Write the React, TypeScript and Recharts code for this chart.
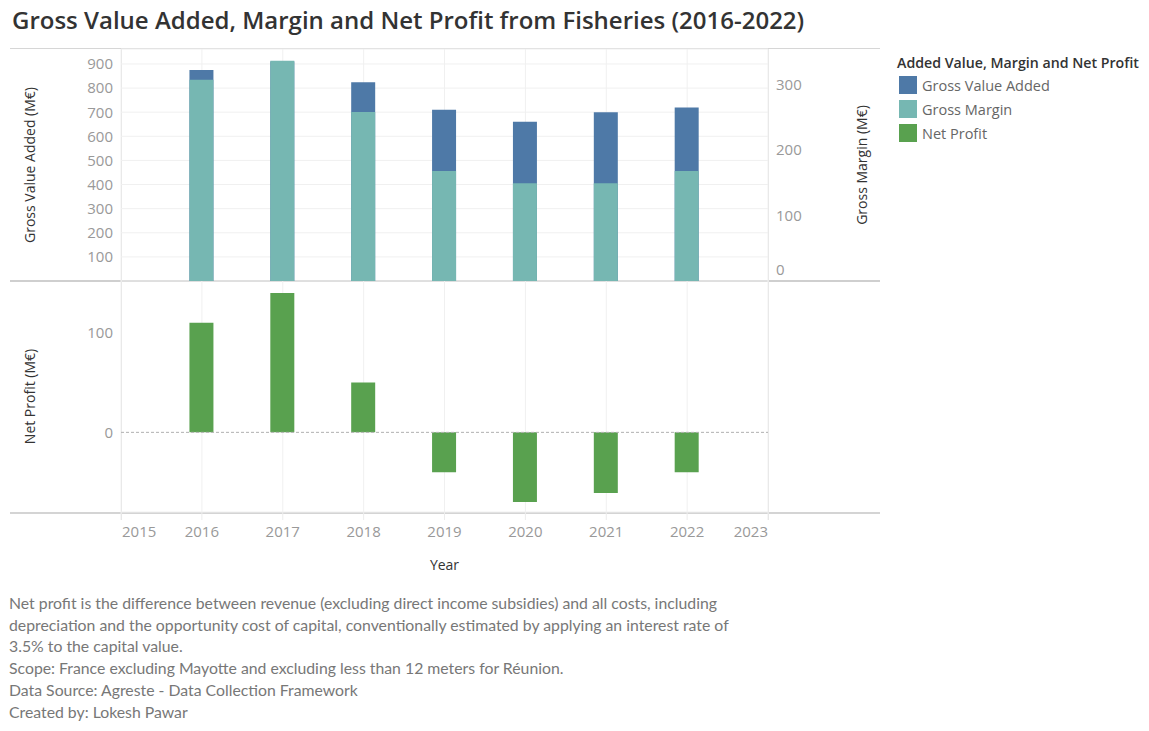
import React from "react";
import {
  Bar,
  BarChart,
  CartesianGrid,
  ReferenceLine,
  XAxis,
  YAxis,
} from "recharts";

// Fisheries figures, M€
const years = [2016, 2017, 2018, 2019, 2020, 2021, 2022];
const grossValueAdded = [875, 910, 824, 710, 660, 700, 719];
const grossMargin = [307, 336, 258, 168, 149, 149, 168];
const netProfit = [110, 140, 50, -40, -70, -61, -40];

const yearTicks = [2015, 2016, 2017, 2018, 2019, 2020, 2021, 2022, 2023];
const gvaTicks = [100, 200, 300, 400, 500, 600, 700, 800, 900];
const marginTicks = [0, 100, 200, 300];
const profitTicks = [0, 100];
const profitGridTicks = [100];

const COLORS = {
  gva: "#4e79a7",
  margin: "#76b7b2",
  profit: "#59a14f",
};

const legendItems = [
  { name: "Gross Value Added", color: COLORS.gva },
  { name: "Gross Margin", color: COLORS.margin },
  { name: "Net Profit", color: COLORS.profit },
];

const notes = [
  "Net profit is the difference between revenue (excluding direct income subsidies) and all costs, including",
  "depreciation and the opportunity cost of capital, conventionally estimated by applying an interest rate of",
  "3.5% to the capital value.",
  "Scope: France excluding Mayotte and excluding less than 12 meters for Réunion.",
  "Data Source: Agreste - Data Collection Framework",
  "Created by: Lokesh Pawar",
];

const topData = years.map((year, i) => ({
  year,
  gva: grossValueAdded[i],
  margin: grossMargin[i],
}));

const bottomData = years.map((year, i) => ({ year, profit: netProfit[i] }));

const FONT = "'Open Sans', sans-serif";
const TICK_COLOR = "#999";
const TITLE_COLOR = "#333";
const GRID = "#f0f0f0";
const FRAME = "#d6d6d6";

// right axis: Tableau lifts the bottom label so it stays inside the pane
const MarginTick = (props: any) => {
  const { x, y, payload } = props;
  const shift = payload.value === 0 ? -11 : 0;
  return (
    <text x={x} y={y + shift} dy="0.355em" textAnchor="start" fill={TICK_COLOR} fontSize={15} fontFamily={FONT}>
      {payload.value}
    </text>
  );
};

// first/last year labels are pulled inside the pane edges
const YearTick = (props: any) => {
  const { x, y, payload } = props;
  let anchor = "middle";
  let xx = x;
  if (payload.value === 2015) {
    anchor = "start";
    xx = x + 1;
  } else if (payload.value === 2023) {
    anchor = "end";
  }
  return (
    <text x={xx} y={y} dy="0.71em" textAnchor={anchor} fill={TICK_COLOR} fontSize={15} fontFamily={FONT}>
      {payload.value}
    </text>
  );
};

const hLine = (top: number, color = FRAME, h = 1) => (
  <div style={{ position: "absolute", left: 10, top, width: 870, height: h, background: color }} />
);
const vLine = (left: number) => (
  <div style={{ position: "absolute", left, top: 49, width: 1, height: 471, background: "#e2e2e2" }} />
);

const tickStyle = { fill: TICK_COLOR, fontSize: 15, fontFamily: FONT };

export default function App() {
  return (
    <div
      style={{
        position: "absolute",
        left: 0,
        top: 0,
        width: 1149,
        height: 731,
        background: "#fff",
        fontFamily: FONT,
      }}
    >
      <div
        style={{
          position: "absolute",
          left: 12,
          top: 3,
          fontSize: 24,
          fontWeight: 600,
          color: TITLE_COLOR,
          whiteSpace: "nowrap",
        }}
      >
        Gross Value Added, Margin and Net Profit from Fisheries (2016-2022)
      </div>

      {hLine(48)}
      {hLine(280, "#cfcfcf", 2)}
      {hLine(512, "#d4d4d4", 2)}
      {vLine(121)}
      {vLine(768)}

      <div style={{ position: "absolute", left: 0, top: 0 }}>
        <BarChart width={880} height={281} data={topData} margin={{ top: 49, right: 0, bottom: 0, left: 10 }}>
          <CartesianGrid stroke={GRID} xAxisId="gva" yAxisId="left" />
          <XAxis xAxisId="gva" dataKey="year" type="number" domain={[2015, 2023]} ticks={yearTicks} hide />
          <XAxis xAxisId="margin" dataKey="year" type="number" domain={[2015, 2023]} ticks={yearTicks} hide />
          <YAxis
            yAxisId="left"
            width={111}
            domain={[0, 962]}
            ticks={gvaTicks}
            interval={0}
            axisLine={false}
            tickLine={false}
            tick={tickStyle}
            label={{
              value: "Gross Value Added (M€)",
              angle: -90,
              position: "insideLeft",
              offset: 20,
              style: { textAnchor: "middle", fill: TITLE_COLOR, fontSize: 14, fontFamily: FONT },
            }}
          />
          <YAxis
            yAxisId="right"
            orientation="right"
            width={112}
            domain={[0, 354]}
            ticks={marginTicks}
            interval={0}
            axisLine={false}
            tickLine={false}
            tick={<MarginTick />}
            label={{
              value: "Gross Margin (M€)",
              angle: -90,
              position: "insideRight",
              offset: 18,
              style: { textAnchor: "middle", fill: TITLE_COLOR, fontSize: 14, fontFamily: FONT },
            }}
          />
          <Bar dataKey="gva" xAxisId="gva" yAxisId="left" fill={COLORS.gva} barSize={24} isAnimationActive={false} />
          <Bar dataKey="margin" xAxisId="margin" yAxisId="right" fill={COLORS.margin} barSize={24} isAnimationActive={false} />
        </BarChart>
      </div>

      <div style={{ position: "absolute", left: 0, top: 281 }}>
        <BarChart width={880} height={300} data={bottomData} margin={{ top: 0, right: 112, bottom: 11, left: 10 }}>
          <CartesianGrid stroke={GRID} yAxisId="grid" />
          <XAxis
            dataKey="year"
            type="number"
            domain={[2015, 2023]}
            ticks={yearTicks}
            interval={0}
            height={58}
            axisLine={false}
            tickLine={{ stroke: "#ececec" }}
            tickSize={8}
            tickMargin={6}
            tick={<YearTick />}
            label={{
              value: "Year",
              position: "insideBottom",
              offset: 0,
              style: { fill: TITLE_COLOR, fontSize: 14, fontFamily: FONT },
            }}
          />
          <YAxis
            width={111}
            domain={[-80, 152]}
            ticks={profitTicks}
            interval={0}
            axisLine={false}
            tickLine={false}
            tick={tickStyle}
            label={{
              value: "Net Profit (M€)",
              angle: -90,
              position: "insideLeft",
              offset: 20,
              style: { textAnchor: "middle", fill: TITLE_COLOR, fontSize: 14, fontFamily: FONT },
            }}
          />
          {/* hidden axis that only feeds the 100 gridline */}
          <YAxis yAxisId="grid" domain={[-80, 152]} ticks={profitGridTicks} hide />
          <ReferenceLine y={0} stroke="#b0b0b0" strokeDasharray="3 2" />
          <Bar dataKey="profit" fill={COLORS.profit} barSize={24} isAnimationActive={false} />
        </BarChart>
      </div>

      <div style={{ position: "absolute", left: 897, top: 53 }}>
        <div style={{ fontSize: 14.2, fontWeight: 600, color: TITLE_COLOR, lineHeight: "20px", whiteSpace: "nowrap" }}>
          Added Value, Margin and Net Profit
        </div>
        {legendItems.map((item) => (
          <div key={item.name} style={{ display: "flex", alignItems: "center", height: 24 }}>
            <div style={{ width: 18, height: 18, background: item.color, marginLeft: 2, marginRight: 5 }} />
            <span style={{ fontSize: 14.5, color: "#666" }}>{item.name}</span>
          </div>
        ))}
      </div>

      <div
        style={{
          position: "absolute",
          left: 9,
          top: 592,
          fontFamily: "Lato, sans-serif",
          fontSize: 15.8,
          lineHeight: "21.7px",
          color: "#777",
        }}
      >
        {notes.map((line) => (
          <div key={line} style={{ whiteSpace: "nowrap" }}>
            {line}
          </div>
        ))}
      </div>
    </div>
  );
}
